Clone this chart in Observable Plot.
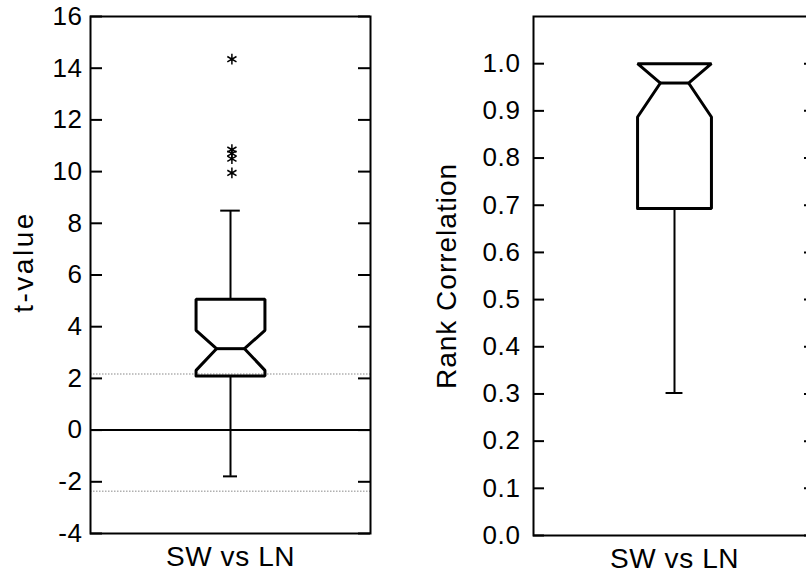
<!DOCTYPE html>
<html>
<head>
<meta charset="utf-8">
<script src="https://cdn.jsdelivr.net/npm/d3@7"></script>
<script src="https://cdn.jsdelivr.net/npm/@observablehq/plot@0.6"></script>
<style>
  html, body { margin: 0; padding: 0; background: #fff; overflow: hidden; width: 806px; height: 575px; }
  #wrap { position: relative; width: 806px; height: 575px; overflow: hidden; }
  #left { position: absolute; left: 0; top: 0; width: 400px; }
  #right { position: absolute; left: 400px; top: 0; width: 420px; }
  svg { font-family: "Liberation Sans", Arial, Helvetica, sans-serif; max-width: none !important; }
</style>
</head>
<body>
<div id="wrap"><div id="left"></div><div id="right"></div></div>
<script>
// ---- data ----
const category = "SW vs LN";
// box stats: [whiskerLow, q1, notchLow, median, notchHigh, q3, whiskerHigh]
const tBox = [-1.79, 2.09, 2.31, 3.15, 3.86, 5.06, 8.49];
const tOutliers = [9.95, 10.5, 10.7, 10.85, 14.35];
const tRefLines = [2.17, -2.37];
const tZero = [0];
const tTicks = [-4, -2, 0, 2, 4, 6, 8, 10, 12, 14, 16];
const tDomain = [-4, 16];

const rBox = [0.302, 0.693, 0.887, 0.959, 1.0, 1.0, 1.0];
const rOutliers = [];
const rTicks = [0.0, 0.1, 0.2, 0.3, 0.4, 0.5, 0.6, 0.7, 0.8, 0.9, 1.0];
const rDomain = [0, 1.1];

// ---- drawing ----
function panel({box, outliers, refLines, zero, ticks, domain, fmt, label, width, marginLeft, marginRight, marginBottom, tickPadding, labelDx, labelDy, labelSpacing, halfW, notchW, capW, tickLen}) {
  const [wl, q1, nl, med, nh0, q3, wh] = box;
  const nh = Math.min(nh0, q3);
  const outline = [
    [-halfW, q1], [-halfW, nl], [-notchW, med], [-halfW, nh], [-halfW, q3],
    [halfW, q3], [halfW, nh], [notchW, med], [halfW, nl], [halfW, q1], [-halfW, q1]
  ];
  const frameW = width - marginLeft - marginRight;
  const marks = [
    Plot.ruleY(refLines, {y: d => d, stroke: "#b0b0b0", strokeWidth: 1.5, strokeDasharray: "1.5,1.5"}),
    Plot.ruleY(zero, {y: d => d, stroke: "black", strokeWidth: 2}),
    Plot.ruleX([0], {x: 0, y1: wl, y2: q1, stroke: "black", strokeWidth: 2}),
    Plot.ruleY([wl], {y: d => d, x1: -capW, x2: capW, stroke: "black", strokeWidth: 2}),
    Plot.line(outline, {x: d => d[0], y: d => d[1], stroke: "black", strokeWidth: 3, strokeLinejoin: "miter"}),
    Plot.ruleY([med], {y: d => d, x1: -notchW, x2: notchW, stroke: "black", strokeWidth: 3}),
    Plot.dot(outliers, {x: 0.01, y: d => d, symbol: "asterisk", r: 5, stroke: "black", strokeWidth: 1.5}),
    Plot.tickY(ticks, {y: d => d, stroke: "black", strokeWidth: 2, insetRight: frameW - tickLen}),
    Plot.tickY(ticks, {y: d => d, stroke: "black", strokeWidth: 2, insetLeft: frameW - tickLen}),
    Plot.axisY({ticks, tickSize: 0, tickPadding, tickFormat: fmt, fontSize: 26, label: null}),
    Plot.axisX({ticks: [0], tickSize: 0, tickPadding: 13, tickFormat: () => category, fontSize: 28, label: null}),
    Plot.text([label], {frameAnchor: "left", text: d => d, rotate: -90, dx: labelDx, dy: labelDy, fontSize: 28,
      textAnchor: "middle", lineAnchor: "middle", fill: "black", style: `letter-spacing:${labelSpacing}px`}),
    Plot.frame({stroke: "black", strokeWidth: 2})
  ];
  if (wh > q3) {
    marks.splice(4, 0,
      Plot.ruleX([0], {x: 0, y1: q3, y2: wh, stroke: "black", strokeWidth: 2}),
      Plot.ruleY([wh], {y: d => d, x1: -capW * 1.4, x2: capW * 1.4, stroke: "black", strokeWidth: 2}));
  }
  const svg = Plot.plot({
    width, height: 575,
    marginLeft, marginRight, marginTop: 16, marginBottom,
    style: {fontSize: "26px", color: "black", fontFamily: '"Liberation Sans", Arial, sans-serif', overflow: "visible", maxWidth: "none", letterSpacing: "0.6px"},
    x: {domain: [-1, 1]},
    y: {domain},
    marks
  });
  svg.querySelectorAll("text").forEach(t => {
    if (t.textContent === label) t.style.letterSpacing = labelSpacing + "px";
  });
  return svg;
}

document.getElementById("left").append(panel({
  box: tBox, outliers: tOutliers, refLines: tRefLines, zero: tZero, ticks: tTicks, domain: tDomain,
  fmt: d => String(d), label: "t-value", width: 400, marginLeft: 90, marginRight: 30, marginBottom: 42,
  tickPadding: 8, labelDx: -66, labelDy: -13, labelSpacing: 2.5,
  halfW: 0.246, notchW: 0.1, capW: 0.05, tickLen: 12
}));
document.getElementById("right").append(panel({
  box: rBox, outliers: rOutliers, refLines: [], zero: [], ticks: rTicks, domain: rDomain,
  fmt: d => d.toFixed(1), label: "Rank Correlation", width: 420, marginLeft: 133, marginRight: 5, marginBottom: 40,
  tickPadding: 13, labelDx: -86, labelDy: 0, labelSpacing: 1,
  halfW: 0.262, notchW: 0.1, capW: 0.06, tickLen: 11
}));
</script>
</body>
</html>
